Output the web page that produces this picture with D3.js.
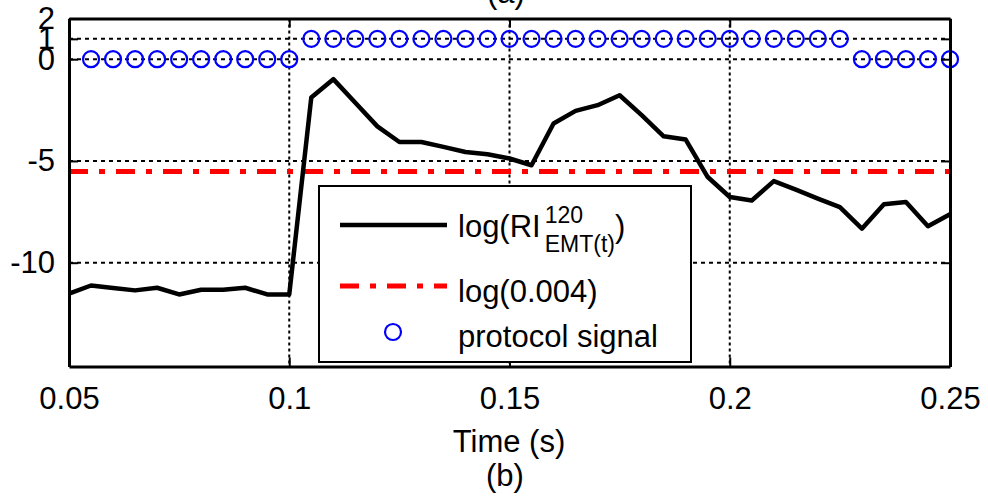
<!DOCTYPE html>
<html>
<head>
<meta charset="utf-8">
<script src="https://cdn.jsdelivr.net/npm/d3@7"></script>
<style>
  body { margin: 0; background: #fff; }
  text { font-family: "Liberation Sans", Arial, sans-serif; fill: #000; }
</style>
</head>
<body>
<div id="chart"></div>
<script>
// time samples (s)
const timeLine = [
    0.050, 0.055, 0.060, 0.065, 0.070, 0.075, 0.080, 0.085, 0.090, 0.095,
    0.100, 0.105, 0.110, 0.115, 0.120, 0.125, 0.130, 0.135, 0.140, 0.145,
    0.150, 0.155, 0.160, 0.165, 0.170, 0.175, 0.180, 0.185, 0.190, 0.195,
    0.200, 0.205, 0.210, 0.215, 0.220, 0.225, 0.230, 0.235, 0.240, 0.245,
    0.250
];
// log(RI) values
const logRI = [
    -11.52, -11.12, -11.24, -11.36, -11.23, -11.56, -11.33, -11.33, -11.23, -11.56,
    -11.56, -1.88, -0.98, -2.14, -3.30, -4.07, -4.07, -4.31, -4.56, -4.67,
    -4.88, -5.21, -3.16, -2.54, -2.26, -1.77, -2.75, -3.79, -3.95, -5.79,
    -6.77, -6.94, -5.99, -6.41, -6.85, -7.27, -8.33, -7.13, -7.02, -8.21,
    -7.62
];
// protocol signal samples
const timeSignal = [
    0.055, 0.060, 0.065, 0.070, 0.075, 0.080, 0.085, 0.090, 0.095, 0.100,
    0.105, 0.110, 0.115, 0.120, 0.125, 0.130, 0.135, 0.140, 0.145, 0.150,
    0.155, 0.160, 0.165, 0.170, 0.175, 0.180, 0.185, 0.190, 0.195, 0.200,
    0.205, 0.210, 0.215, 0.220, 0.225, 0.230, 0.235, 0.240, 0.245, 0.250
];
const protocolSignal = [
    0, 0, 0, 0, 0, 0, 0, 0, 0, 0,
    1, 1, 1, 1, 1, 1, 1, 1, 1, 1,
    1, 1, 1, 1, 1, 1, 1, 1, 1, 1,
    1, 1, 1, 1, 1, 0, 0, 0, 0, 0
];
const threshold = Math.log(0.004);
const xTicks = [0.05, 0.1, 0.15, 0.2, 0.25];
const yTicks = [2, 1, 0, -5, -10];
const xGrid = [0.1, 0.15, 0.2];
const yGrid = [1, 0, -5, -10];

const W = 988, H = 496;
const plotL = 69, plotR = 950, plotT = 18.5, plotB = 366.5;
const fontSize = 31;

const svg = d3.select("#chart").append("svg")
    .attr("width", W)
    .attr("height", H);

const x = d3.scaleLinear().domain([0.05, 0.25]).range([plotL, plotR]);
const y = d3.scaleLinear().domain([-15.1, 2]).range([plotB, plotT]);

// Grid
svg.append("g")
    .selectAll("line")
    .data(xGrid)
    .enter()
    .append("line")
    .attr("x1", d => x(d)).attr("x2", d => x(d))
    .attr("y1", plotT).attr("y2", plotB)
    .attr("stroke", "#000")
    .attr("stroke-width", 2)
    .attr("stroke-dasharray", "3,3");

svg.append("g")
    .selectAll("line")
    .data(yGrid)
    .enter()
    .append("line")
    .attr("x1", plotL).attr("x2", plotR)
    .attr("y1", d => y(d)).attr("y2", d => y(d))
    .attr("stroke", "#000")
    .attr("stroke-width", 2)
    .attr("stroke-dasharray", "4,4");

// Threshold line
svg.append("line")
    .attr("x1", plotL).attr("x2", plotR)
    .attr("y1", y(threshold)).attr("y2", y(threshold))
    .attr("stroke", "#ff0000")
    .attr("stroke-width", 5)
    .attr("stroke-dasharray", "19,11,6,11");

// Data line
svg.append("path")
    .datum(timeLine.map((t, i) => [t, logRI[i]]))
    .attr("fill", "none")
    .attr("stroke", "#000")
    .attr("stroke-width", 4.5)
    .attr("stroke-linejoin", "round")
    .attr("d", d3.line().x(d => x(d[0])).y(d => y(d[1])));

// Protocol signal markers
svg.append("g")
    .selectAll("circle")
    .data(timeSignal.map((t, i) => [t, protocolSignal[i]]))
    .enter()
    .append("circle")
    .attr("cx", d => x(d[0]))
    .attr("cy", d => y(d[1]))
    .attr("r", 8)
    .attr("fill", "none")
    .attr("stroke", "#0000ff")
    .attr("stroke-width", 2.2);

// Axes (MATLAB box with inward ticks)
function styleAxis(g) {
    g.select(".domain").attr("stroke-width", 3);
    g.selectAll(".tick line").attr("stroke-width", 2);
    g.selectAll(".tick text")
        .attr("fill", "#000")
        .style("font-family", "'Liberation Sans', Arial, sans-serif")
        .style("font-size", fontSize + "px");
}

const plain = d => String(d);

svg.append("g")
    .attr("transform", `translate(0,${plotB})`)
    .call(d3.axisBottom(x).tickValues(xTicks).tickSizeInner(-9).tickSizeOuter(0)
        .tickPadding(20).tickFormat(plain))
    .call(styleAxis);

svg.append("g")
    .attr("transform", `translate(0,${plotT})`)
    .call(d3.axisTop(x).tickValues(xTicks).tickSizeInner(-9).tickSizeOuter(0).tickFormat(""))
    .call(styleAxis);

svg.append("g")
    .attr("transform", `translate(${plotL},0)`)
    .call(d3.axisLeft(y).tickValues(yTicks).tickSizeInner(-9).tickSizeOuter(0)
        .tickPadding(14).tickFormat(plain))
    .call(styleAxis);

svg.append("g")
    .attr("transform", `translate(${plotR},0)`)
    .call(d3.axisRight(y).tickValues(yTicks).tickSizeInner(-9).tickSizeOuter(0).tickFormat(""))
    .call(styleAxis);

// Labels
svg.append("text")
    .attr("x", 509).attr("y", 452)
    .attr("text-anchor", "middle")
    .style("font-size", fontSize + "px")
    .text("Time (s)");

svg.append("text")
    .attr("x", 505).attr("y", 486)
    .attr("text-anchor", "middle")
    .style("font-size", fontSize + "px")
    .text("(b)");

svg.append("text")
    .attr("x", 506).attr("y", 3)
    .attr("text-anchor", "middle")
    .style("font-size", fontSize + "px")
    .text("(a)");

// Legend
const lg = svg.append("g");
lg.append("rect")
    .attr("x", 319).attr("y", 186)
    .attr("width", 372).attr("height", 176)
    .attr("fill", "#fff")
    .attr("stroke", "#000")
    .attr("stroke-width", 2);

lg.append("line")
    .attr("x1", 340).attr("x2", 447)
    .attr("y1", 225).attr("y2", 225)
    .attr("stroke", "#000").attr("stroke-width", 4.5);

const t1 = lg.append("text")
    .attr("x", 458).attr("y", 237)
    .style("font-size", fontSize + "px")
    .text("log(RI");
const w1 = t1.node().getComputedTextLength();
const sx = 458 + w1 + 4;
lg.append("text")
    .attr("x", sx).attr("y", 223)
    .style("font-size", "23px")
    .text("120");
const tSub = lg.append("text")
    .attr("x", sx).attr("y", 252)
    .style("font-size", "23px")
    .text("EMT(t)");
const wSub = tSub.node().getComputedTextLength();
lg.append("text")
    .attr("x", sx + wSub).attr("y", 237)
    .style("font-size", fontSize + "px")
    .text(")");

lg.append("line")
    .attr("x1", 340).attr("x2", 447)
    .attr("y1", 286).attr("y2", 286)
    .attr("stroke", "#ff0000").attr("stroke-width", 5)
    .attr("stroke-dasharray", "19,11,6,11");
lg.append("text")
    .attr("x", 458).attr("y", 302)
    .style("font-size", fontSize + "px")
    .text("log(0.004)");

lg.append("circle")
    .attr("cx", 393).attr("cy", 332)
    .attr("r", 8)
    .attr("fill", "none")
    .attr("stroke", "#0000ff")
    .attr("stroke-width", 2.2);
lg.append("text")
    .attr("x", 458).attr("y", 347)
    .style("font-size", fontSize + "px")
    .text("protocol signal");
</script>
</body>
</html>
